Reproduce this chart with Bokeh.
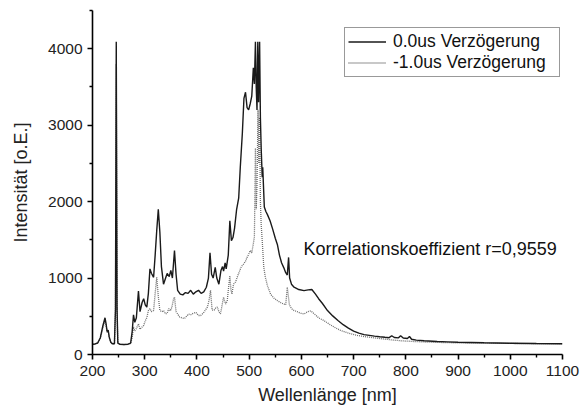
from bokeh.plotting import figure
from bokeh.models import Range1d, Legend, LegendItem, Label, FixedTicker
from bokeh.embed import file_html
from bokeh.resources import INLINE

# --- data: 0.0 us delay (solid) ---
wl_0us = [200, 205, 210, 215, 220, 224, 226, 228, 230, 232, 235, 238, 242, 244, 245.5, 247, 248.5, 252, 260,
          268, 273, 276, 278.5, 281, 284, 288, 291, 295, 298, 301, 304, 307, 310, 313, 317, 320, 323, 326,
          329, 332, 336, 340, 343, 347, 350, 353, 357, 360, 363, 368, 373, 378, 383, 388, 393, 398, 403,
          408, 413, 418, 422, 425, 428, 431, 435, 438, 442, 446, 449, 451, 454, 456, 460, 463, 466, 469,
          472, 476, 480, 483, 487, 490, 493, 496, 499, 502, 505, 508, 510, 512, 513.5, 515, 516.5, 518,
          520, 521.5, 523, 525, 526, 529, 532, 535, 540, 545, 550, 554, 558, 562, 566, 570, 573, 575.5,
          577.5, 581, 586, 595, 605, 613, 620, 627, 633, 640, 650, 660, 670, 680, 690, 700, 710, 720,
          730, 740, 750, 760, 768, 773, 778, 786, 790, 795, 803, 807, 811, 820, 835, 860, 880, 900, 950,
          1000, 1050, 1100]
int_0us = [135, 138, 150, 220, 380, 480, 400, 300, 320, 230, 160, 140, 140, 600, 4090, 600, 150, 135, 130,
           135, 150, 300, 520, 420, 480, 830, 560, 680, 730, 650, 620, 800, 1120, 1060, 1010, 1300, 1620, 1900,
           1600, 1150, 920, 1000, 1060, 1020, 1100, 1000, 1360, 1050, 840, 790, 780, 810, 800, 840, 790, 820, 840,
           800, 820, 880, 1000, 1330, 1050, 1000, 1140, 1000, 920, 1100, 1150, 1090, 1200, 1120, 1300, 1750, 1490, 1530,
           1650, 1900, 2050, 2450, 2900, 3350, 3430, 3230, 3200, 3280, 3380, 3750, 3540, 4090, 3500, 3200, 4090, 3300,
           4090, 3100, 2700, 2320, 2450, 1930, 1870, 1830, 1750, 1640, 1520, 1440, 1300, 1200, 1140, 1070, 1040, 1270,
           1000, 920, 880, 850, 835, 845, 850, 790, 730, 670, 575, 505, 445, 390, 345, 305, 280, 260,
           250, 240, 232, 225, 220, 245, 222, 218, 245, 215, 210, 235, 200, 188, 180, 170, 165, 160, 153,
           148, 143, 140]

# --- data: -1.0 us delay (dotted) ---
wl_m1us = [200, 205, 210, 215, 220, 224, 226, 228, 230, 232, 235, 238, 242, 244, 245.5, 247, 248.5, 252, 260,
           268, 273, 276, 278.5, 281, 284, 288, 291, 295, 298, 301, 304, 307, 310, 313, 317, 320, 323, 326,
           329, 333, 336, 340, 343, 346, 349, 352, 355, 357, 360, 363, 367, 371, 376, 380, 384, 388, 393,
           398, 403, 407, 412, 416, 420, 423, 426, 429, 433, 436, 439, 442, 445, 448, 451, 453, 455, 458,
           460, 463, 465, 467, 470, 474, 477, 481, 485, 490, 493, 496, 499, 502, 505, 508, 510, 512, 513.5,
           515, 517, 518.5, 520, 521.5, 523, 525, 528, 531, 535, 541, 547, 554, 560, 566, 570, 573, 577,
           581, 586, 592, 598, 605, 612, 618, 625, 633, 643, 655, 665, 675, 690, 707, 720, 739, 755, 771,
           790, 810, 840, 880, 920, 1000, 1050, 1100]
int_m1us = [135, 138, 150, 210, 350, 440, 380, 290, 300, 220, 160, 140, 140, 550, 3800, 550, 150, 135, 130,
            133, 145, 220, 360, 310, 340, 400, 330, 360, 380, 440, 480, 575, 600, 560, 575, 800, 1010, 760,
            575, 560, 575, 530, 540, 600, 570, 620, 720, 750, 560, 530, 490, 480, 470, 500, 530, 520, 540,
            550, 510, 510, 540, 580, 620, 700, 840, 580, 580, 610, 620, 560, 530, 640, 750, 700, 660, 700,
            840, 1030, 850, 790, 920, 950, 1010, 1080, 1150, 1190, 1220, 1270, 1310, 1360, 1330, 1450, 1540, 2700, 1900,
            2200, 3200, 2500, 3100, 2000, 1700, 1490, 1140, 1010, 900, 790, 740, 705, 680, 660, 650, 880, 650,
            600, 575, 560, 540, 530, 560, 570, 530, 480, 444, 390, 350, 315, 280, 250, 235, 218, 205, 192,
            180, 172, 162, 155, 150, 145, 140, 138]

x_ticks = [200, 300, 400, 500, 600, 700, 800, 900, 1000, 1100]
y_ticks = [0, 1000, 2000, 3000, 4000]
series_labels = ["0.0us Verzögerung", "-1.0us Verzögerung"]
annotation_text = "Korrelationskoeffizient r=0,9559"

FONT = "Liberation Sans"

p = figure(width=581, height=407, output_backend="svg", toolbar_location=None,
           x_range=Range1d(200, 1100), y_range=Range1d(0, 4500),
           min_border_left=92, min_border_right=19, min_border_top=10, min_border_bottom=53)
p.outline_line_color = None
p.grid.grid_line_color = None
p.background_fill_color = "white"
p.border_fill_color = "white"

r_m1 = p.line(wl_m1us, int_m1us, line_color="#6e6e6e", line_width=1.3, line_dash="1 1")
r_0 = p.line(wl_0us, int_0us, line_color="#1a1a1a", line_width=1.4)

for ax in (p.xaxis[0], p.yaxis[0]):
    ax.axis_line_color = "black"
    ax.axis_line_width = 1.6
    ax.major_tick_line_color = "black"
    ax.major_tick_line_width = 1.6
    ax.minor_tick_line_color = "black"
    ax.minor_tick_line_width = 1.4
    ax.major_tick_out = 5
    ax.major_tick_in = 0
    ax.minor_tick_out = 3
    ax.minor_tick_in = 0
    ax.major_label_text_font = FONT
    ax.major_label_text_font_size = "15.5px"
    ax.major_label_text_color = "#222222"
    ax.axis_label_text_font = FONT
    ax.axis_label_text_font_size = "18px"
    ax.axis_label_text_font_style = "normal"
    ax.axis_label_text_color = "#222222"

p.xaxis[0].ticker = FixedTicker(ticks=x_ticks, minor_ticks=list(range(250, 1100, 100)))
p.yaxis[0].ticker = FixedTicker(ticks=y_ticks, minor_ticks=[500, 1500, 2500, 3500, 4500])
p.xaxis[0].axis_label = "Wellenlänge [nm]"
p.yaxis[0].axis_label = "Intensität [o.E.]"
p.xaxis[0].major_label_standoff = 6
p.yaxis[0].major_label_standoff = 5
p.xaxis[0].axis_label_standoff = 6
p.yaxis[0].axis_label_standoff = 14

legend = Legend(items=[LegendItem(label=series_labels[0], renderers=[r_0]),
                       LegendItem(label=series_labels[1], renderers=[r_m1])],
                location=(252, 277), orientation="vertical",
                padding=3, spacing=0, margin=0,
                glyph_width=38, glyph_height=19, label_height=19, label_width=163, label_standoff=7,
                label_text_font=FONT, label_text_font_size="17.5px", label_text_color="#111111",
                border_line_color="#333333", border_line_width=1.3, background_fill_alpha=1.0)
p.add_layout(legend, "center")

p.add_layout(Label(x=604, y=1378, text=annotation_text, text_font=FONT, text_font_size="18px",
                   text_color="#111111", text_baseline="alphabetic"))

open("out.html", "w").write(file_html(p, INLINE))
